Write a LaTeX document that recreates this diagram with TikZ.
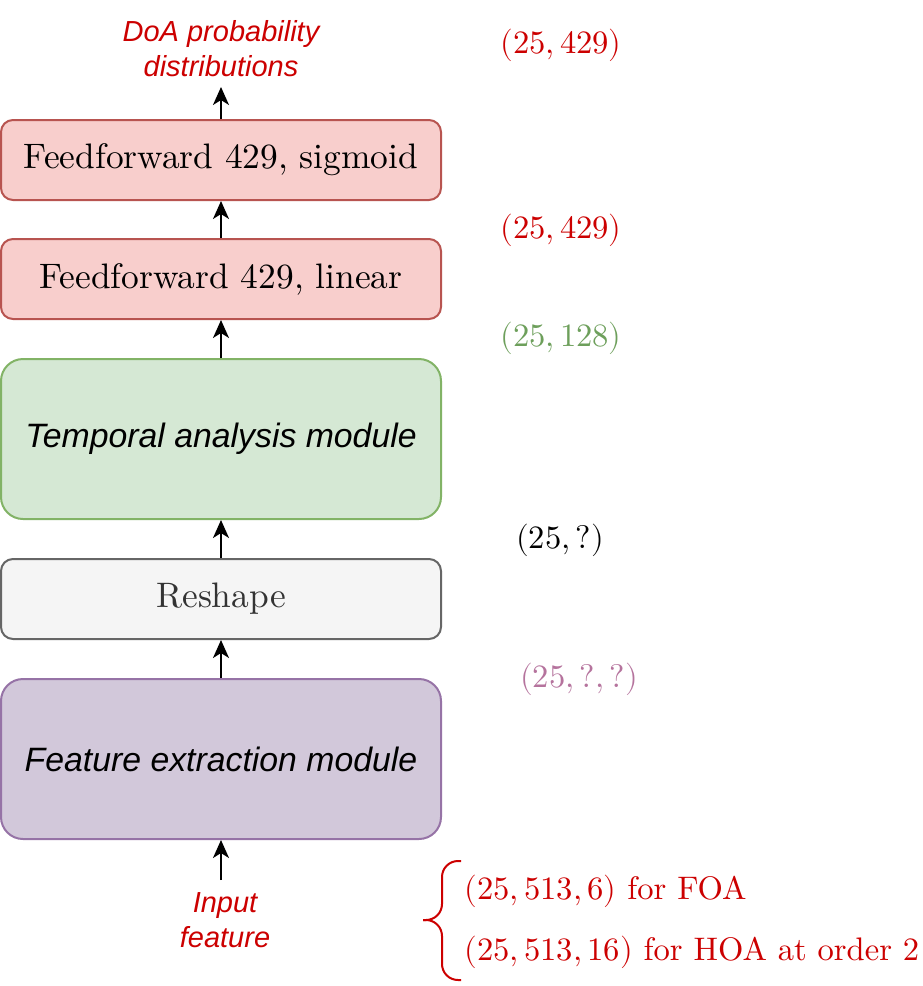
\documentclass[tikz,border=0pt]{standalone}
\usepackage{fontspec}
\usepackage{unicode-math}
\setmainfont{lmroman10-regular.otf}[ItalicFont=lmroman10-italic.otf, BoldFont=lmroman10-bold.otf]
\setmathfont{Latin Modern Math}
\newfontfamily\helv{Liberation Sans}
\usepackage{tikz}
\usetikzlibrary{arrows.meta,positioning}
\definecolor{ffFill}{HTML}{F8CECC}
\definecolor{ffLine}{HTML}{B85450}
\definecolor{tamFill}{HTML}{D5E8D4}
\definecolor{tamLine}{HTML}{82B366}
\definecolor{rsFill}{HTML}{F5F5F5}
\definecolor{rsLine}{HTML}{666666}
\definecolor{rsText}{HTML}{333333}
\definecolor{feFill}{HTML}{D2C8DA}
\definecolor{feLine}{HTML}{9673A6}
\definecolor{redTxt}{HTML}{CC0000}
\definecolor{grnTxt}{HTML}{6D9F5B}
\definecolor{purTxt}{HTML}{B5739D}

\begin{document}
\begin{tikzpicture}[
  x=0.5pt, y=-0.5pt,
  font=\fontsize{17.7}{21}\selectfont, node distance=19pt,
  blk/.style={draw, line width=1pt, rounded corners=6pt, minimum width=220pt, minimum height=40pt, inner sep=0pt},
  big/.style={blk, rounded corners=11pt, minimum height=80pt, font=\helv\itshape\fontsize{16.9}{20}\selectfont},
  lbl/.style={align=center, inner sep=0pt, text=redTxt, font=\helv\itshape\fontsize{14.5}{17.5}\selectfont},
  dim/.style={inner sep=0pt, font=\fontsize{16.3}{20}\selectfont},
  flow/.style={-{Stealth[length=9pt, width=8pt, inset=2.5pt]}, line width=1pt}
]
\useasboundingbox (0,0) rectangle (922,986);

% network blocks, bottom to top
\node[big, fill=feFill, draw=feLine] (fe) at (221,759) {Feature extraction module};
\node[blk, fill=rsFill, draw=rsLine, text=rsText, above=of fe] (rs) {Reshape};
\node[big, fill=tamFill, draw=tamLine, above=of rs] (tam) {Temporal analysis module};
\node[blk, fill=ffFill, draw=ffLine, above=of tam] (ffl) {Feedforward 429, linear};
\node[blk, fill=ffFill, draw=ffLine, above=18.5pt of ffl] (ffs) {Feedforward 429, sigmoid};

% in / out
\coordinate[below=20pt of fe] (in);
\coordinate[above=16pt of ffs] (out);
\node[lbl, above=5pt of out] (doa) {DoA probability\\distributions};
\node[lbl, below=6pt of in, xshift=2pt] (inlbl) {Input\\feature};

\draw[flow] (in) -- (fe);
\draw[flow] (fe) -- (rs);
\draw[flow] (rs) -- (tam);
\draw[flow] (tam) -- (ffl);
\draw[flow] (ffl) -- (ffs);
\draw[flow] (ffs) -- (out);

% tensor shapes
\node[dim, text=redTxt] (d1) at (561,45) {$(25, 429)$};
\node[dim, text=redTxt] (d2) at (561,230) {$(25, 429)$};
\node[dim, text=grnTxt] (d3) at (561,338) {$(25, 128)$};
\node[dim] (d4) at (560,540) {$(25, ?)$};
\node[dim, text=purTxt] (d5) at (579,679) {$(25, ?, ?)$};

% input shapes with brace
\draw[redTxt, line width=1pt, rounded corners=8pt] (461,861) -- (442,861) -- (442,920) -- (423,920);
\draw[redTxt, line width=1pt, rounded corners=8pt] (461,980) -- (442,980) -- (442,920) -- (423,920);
\node[dim, text=redTxt, anchor=west] (foa) at (464,891) {$(25, 513, 6)$ for FOA};
\node[dim, text=redTxt, anchor=west] (hoa) at (464,952) {$(25, 513, 16)$ for HOA at order 2};
\end{tikzpicture}
\end{document}
